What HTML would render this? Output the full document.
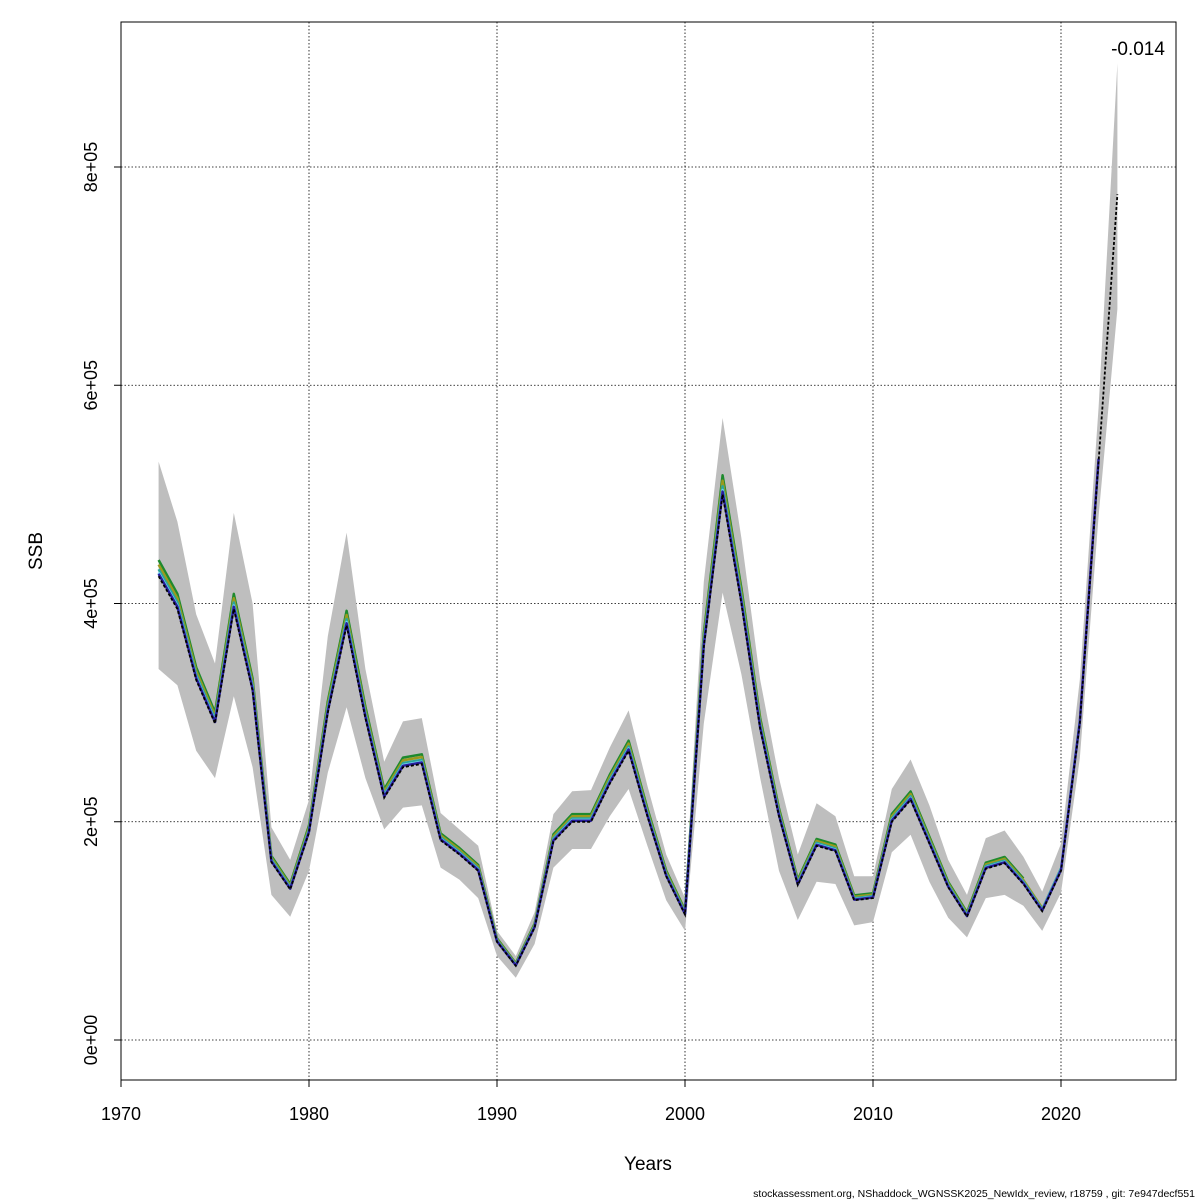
<!DOCTYPE html>
<html><head><meta charset="utf-8"><style>
html,body{margin:0;padding:0;background:#fff}
svg{display:block;font-family:"Liberation Sans",Arial,sans-serif}
</style></head><body>
<svg id="chart" width="1200" height="1200" viewBox="0 0 1200 1200">
<rect x="0" y="0" width="1200" height="1200" fill="#fff"/>
<g id="grid"></g>
<g id="band"></g>
<g id="peels"></g>
<g id="main"></g>
<rect x="121" y="22" width="1055" height="1058" fill="none" stroke="#000" stroke-width="1"/>
<g id="axes"></g>
<text x="648" y="1170" font-size="19" text-anchor="middle">Years</text>
<text x="42" y="551" font-size="19" text-anchor="middle" transform="rotate(-90 42 551)">SSB</text>
<text x="1138" y="55" font-size="19" text-anchor="middle">-0.014</text>
<text x="1195" y="1197" font-size="10.5" text-anchor="end">stockassessment.org, NShaddock_WGNSSK2025_NewIdx_review, r18759 , git: 7e947decf551</text>
</svg>
<script>
const years = [1972,1973,1974,1975,1976,1977,1978,1979,1980,1981,1982,1983,1984,1985,1986,1987,1988,1989,1990,1991,1992,1993,1994,1995,1996,1997,1998,1999,2000,2001,2002,2003,2004,2005,2006,2007,2008,2009,2010,2011,2012,2013,2014,2015,2016,2017,2018,2019,2020,2021,2022,2023];
const ssb = [425,395,330,290,395,320,163,138,190,300,380,295,222,250,253,183,170,155,90,68,103,182,200,200,235,265,205,150,115,360,500,400,285,205,142,178,173,128,130,200,220,180,140,113,157,162,143,118,155,290,530,775];
const upper = [530,475,390,345,483,400,195,165,220,370,465,340,255,292,295,208,193,178,100,77,117,207,228,229,268,302,233,170,130,420,570,460,330,240,170,217,205,150,150,230,257,215,165,133,185,192,168,136,180,330,580,895];
const lower = [340,325,265,240,315,250,133,113,155,245,305,240,193,213,215,158,147,130,77,57,88,158,175,175,205,230,178,128,100,290,410,335,240,155,110,145,143,105,108,172,188,145,112,94,130,133,123,100,135,258,480,670];
const peelNames = ["peel-1","peel-2","peel-3","peel-4","peel-5"];
const peelColors = ["#2a1f9e","#6fcdf5","#2aa59a","#9a9a1e","#1e8a2e"];
const peelEndYears = [2022,2021,2020,2019,2018];
const peelScale = [1.005,1.008,1.015,1.025,1.035];
const yTicks = [0,200,400,600,800];
const yTickLabels = ["0e+00","2e+05","4e+05","6e+05","8e+05"];
const xTicks = [1970,1980,1990,2000,2010,2020];

const NS="http://www.w3.org/2000/svg";
const X = y => 121 + (y-1970)*18.8;
const Y = v => 1040 - v*873/800;
function mk(tag, attrs, parent){const e=document.createElementNS(NS,tag);for(const k in attrs)e.setAttribute(k,attrs[k]);parent.appendChild(e);return e;}
const grid=document.getElementById('grid'), axes=document.getElementById('axes');
xTicks.forEach(t=>{
  const l=mk('line',{x1:X(t),x2:X(t),y1:22,y2:1080,stroke:'#000','stroke-width':0.8,'stroke-dasharray':'1.5,2'},grid);
  
  
  const tk=mk('line',{x1:X(t),x2:X(t),y1:1080,y2:1087,stroke:'#000'},axes);
  
  
  const tx=mk('text',{x:X(t),y:1120,'font-size':18,'text-anchor':'middle'},axes);
  tx.textContent=t;
  
  
});
mk('line',{x1:X(1970),x2:X(2020),y1:1080,y2:1080,stroke:'#000'},axes);
yTicks.forEach((t,i)=>{
  const l=mk('line',{x1:121,x2:1176,y1:Y(t),y2:Y(t),stroke:'#000','stroke-width':0.8,'stroke-dasharray':'1.5,2'},grid);
  
  
  const tk=mk('line',{x1:114,x2:121,y1:Y(t),y2:Y(t),stroke:'#000'},axes);
  
  
  const tx=mk('text',{x:97,y:Y(t),'font-size':18,'text-anchor':'middle',transform:`rotate(-90 97 ${Y(t)})`},axes);
  tx.textContent=yTickLabels[i];
  
  
});
let d='';
years.forEach((y,i)=>{d+=(i?'L':'M')+X(y).toFixed(1)+','+Y(upper[i]).toFixed(1);});
for(let i=years.length-1;i>=0;i--)d+='L'+X(years[i]).toFixed(1)+','+Y(lower[i]).toFixed(1);
const band=mk('path',{d:d+'Z',fill:'#bebebe',stroke:'none'},document.getElementById('band'));


const peels=document.getElementById('peels');
for(let p=peelNames.length-1;p>=0;p--){
  let pd='';
  years.forEach((y,i)=>{ if(y<=peelEndYears[p]) pd+=(pd?'L':'M')+X(y).toFixed(1)+','+Y(ssb[i]*peelScale[p]).toFixed(1);});
  const pl=mk('path',{d:pd,fill:'none',stroke:peelColors[p],'stroke-width':2.5,'stroke-linejoin':'round'},peels);
  
  
}
let md='';
years.forEach((y,i)=>{md+=(i?'L':'M')+X(y).toFixed(1)+','+Y(ssb[i]).toFixed(1);});
const ml=mk('path',{d:md,fill:'none',stroke:'#000','stroke-width':1.8,'stroke-dasharray':'3,2'},document.getElementById('main'));


</script>
</body></html>
